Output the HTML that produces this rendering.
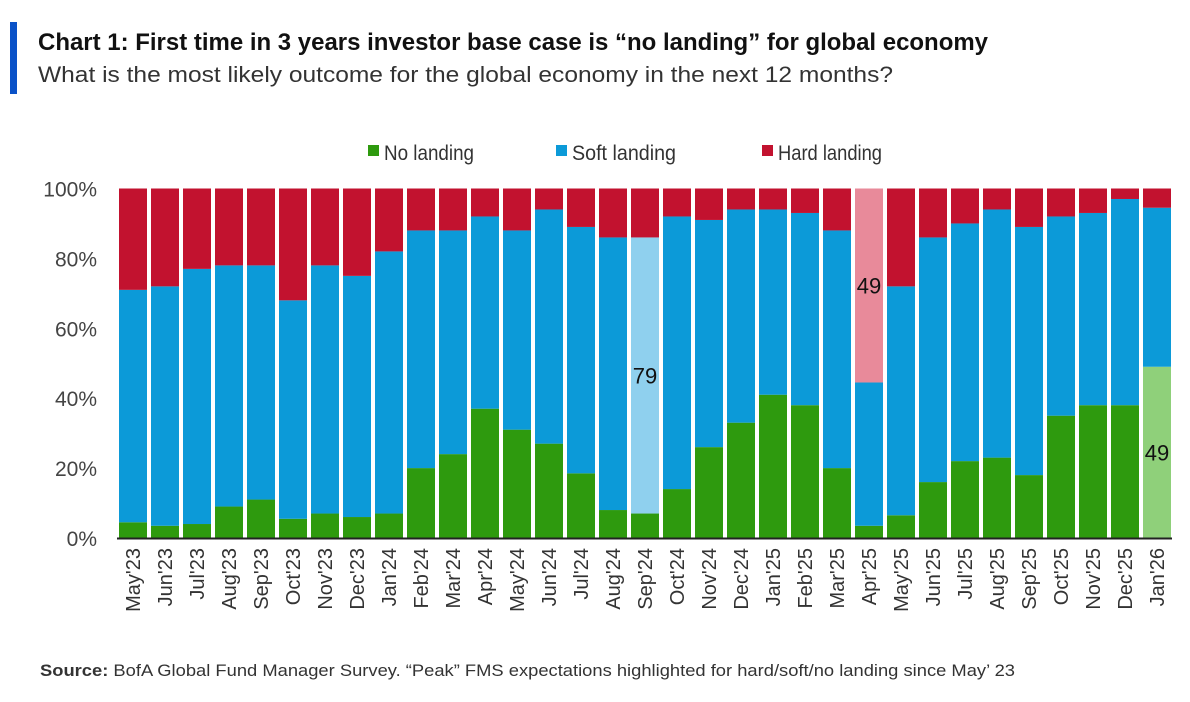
<!DOCTYPE html>
<html><head><meta charset="utf-8"><style>
body{margin:0;background:#fff;width:1190px;height:697px;overflow:hidden;font-family:"Liberation Sans",sans-serif}
</style></head><body>
<svg width="1190" height="697">
<rect x="10" y="22" width="7" height="72" fill="#0a52c8"/>
<text x="38" y="50" font-size="24" font-weight="bold" fill="#111" textLength="950" lengthAdjust="spacingAndGlyphs">Chart 1: First time in 3 years investor base case is “no landing” for global economy</text>
<text x="38" y="82" font-size="22" fill="#333" textLength="855" lengthAdjust="spacingAndGlyphs">What is the most likely outcome for the global economy in the next 12 months?</text>
<g>
<rect x="368" y="145" width="11" height="11" fill="#2e9a0e"/>
<text x="384" y="160" font-size="21" fill="#333" textLength="90" lengthAdjust="spacingAndGlyphs">No landing</text>
<rect x="556" y="145" width="11" height="11" fill="#0c9ad8"/>
<text x="572" y="160" font-size="21" fill="#333" textLength="104" lengthAdjust="spacingAndGlyphs">Soft landing</text>
<rect x="762" y="145" width="11" height="11" fill="#c2122f"/>
<text x="778" y="160" font-size="21" fill="#333" textLength="104" lengthAdjust="spacingAndGlyphs">Hard landing</text>
</g>
<g id="plot"></g>
<text x="40" y="676" font-size="17" fill="#333" textLength="975" lengthAdjust="spacingAndGlyphs"><tspan font-weight="bold">Source:</tspan> BofA Global Fund Manager Survey. “Peak” FMS expectations highlighted for hard/soft/no landing since May’ 23</text>
</svg>
<script>
const categories=["May'23","Jun'23","Jul'23","Aug'23","Sep'23","Oct'23","Nov'23","Dec'23","Jan'24","Feb'24","Mar'24","Apr'24","May'24","Jun'24","Jul'24","Aug'24","Sep'24","Oct'24","Nov'24","Dec'24","Jan'25","Feb'25","Mar'25","Apr'25","May'25","Jun'25","Jul'25","Aug'25","Sep'25","Oct'25","Nov'25","Dec'25","Jan'26"];
const noLanding=[4.5,3.5,4,9,11,5.5,7,6,7,20,24,37,31,27,18.5,8,7,14,26,33,41,38,20,3.5,6.5,16,22,23,18,35,38,38,49];
const softLanding=[66.5,68.5,73,69,67,62.5,71,69,75,68,64,55,57,67,70.5,78,79,78,65,61,53,55,68,41,65.5,70,68,71,71,57,55,59,45.5];
const hardLanding=[29,28,23,22,22,32,22,25,18,12,12,8,12,6,11,14,14,8,9,6,6,7,12,55.5,28,14,10,6,11,8,7,3,5.5];
const yTicks=[0,20,40,60,80,100];
const peaks=[{i:16,s:1,label:"79"},{i:23,s:2,label:"49"},{i:32,s:0,label:"49"}];
const NS="http://www.w3.org/2000/svg";
const g=document.getElementById('plot');
const y0=538,y100=188.5,x0=119,pitch=32,bw=28;
const yS=v=>y0-(y0-y100)*v/100;
const xS=i=>x0+i*pitch;
const cols=["#2e9a0e","#0c9ad8","#c2122f"],light=["#8fd07a","#8fd0ee","#e88a9a"];
const names=["no-landing","soft-landing","hard-landing"];
function mk(t,a){const e=document.createElementNS(NS,t);for(const k in a)e.setAttribute(k,a[k]);g.appendChild(e);return e;}
yTicks.forEach(t=>{const e=mk('text',{x:97,y:yS(t)+8,'font-size':21,fill:'#444','text-anchor':'end'});e.textContent=t+'%';

});
categories.forEach((c,i)=>{
 const vals=[noLanding[i],softLanding[i],hardLanding[i]];let cum=0;
 vals.forEach((v,s)=>{
  const pk=peaks.find(p=>p.i===i&&p.s===s);
  const r=mk('rect',{x:xS(i),y:yS(cum+v),width:bw,height:yS(cum)-yS(cum+v),fill:pk?light[s]:cols[s]});
  
  
  if(pk){const t=mk('text',{x:xS(i)+bw/2,y:yS(cum+v/2)+8,'font-size':22,fill:'#111','text-anchor':'middle'});t.textContent=pk.label;
   
   }
  cum+=v;
 });
 const lx=xS(i)+bw/2+7;
 const t=mk('text',{x:lx,y:548,'font-size':20,fill:'#333','text-anchor':'end',transform:`rotate(-90 ${lx} 548)`});t.textContent=c;
 
 
});
const ax=mk('line',{x1:117,x2:1172,y1:y0+0.5,y2:y0+0.5,stroke:'#222','stroke-width':2});


</script>
</body></html>
